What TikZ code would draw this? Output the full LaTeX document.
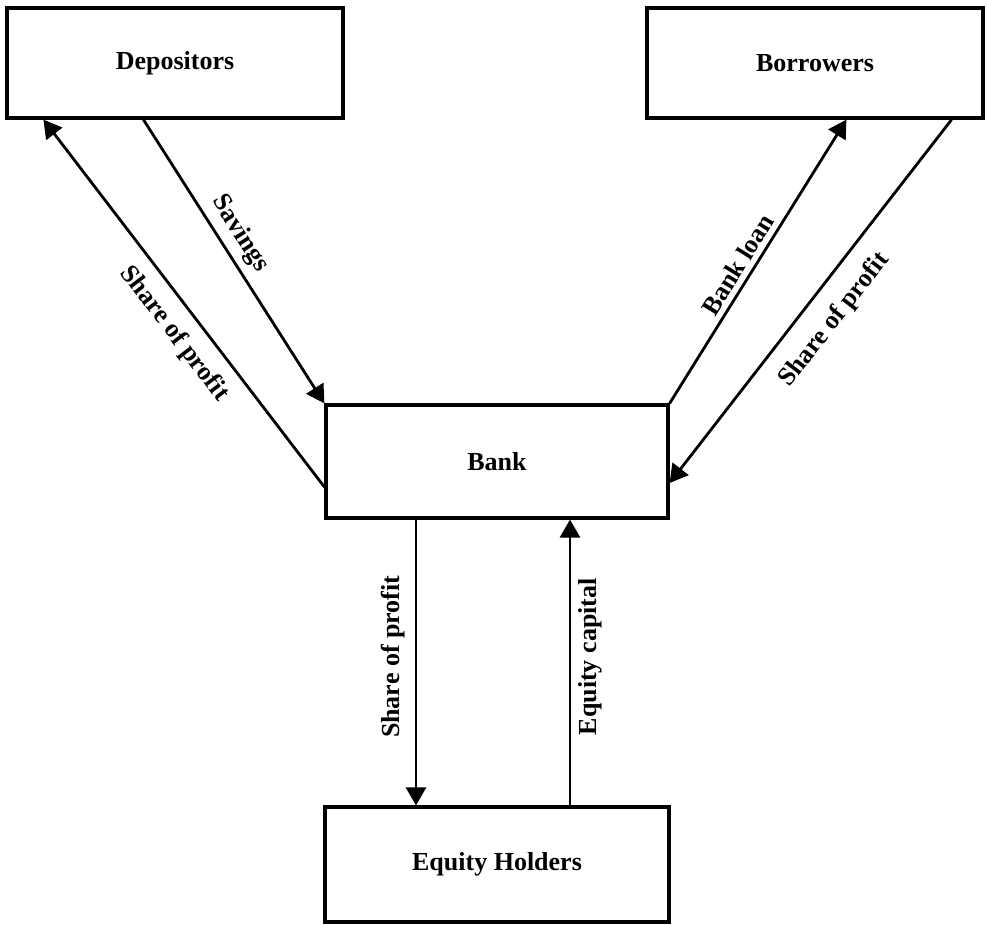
\documentclass[tikz,border=0pt]{standalone}
\usepackage{fontspec}
\setmainfont{Liberation Serif}
\usetikzlibrary{arrows.meta,calc}
\begin{document}
\begin{tikzpicture}[x=1pt,y=-1pt,
  box/.style={draw, line width=3.2pt, inner sep=0pt, font=\fontsize{26}{31}\selectfont\bfseries},
  conn/.style={line width=2.8pt, -{Triangle[length=18pt,width=20pt]}},
  connr/.style={line width=2.8pt, {Triangle[length=18pt,width=20pt]}-},
  lbl/.style={inner sep=0pt, font=\fontsize{26}{31}\selectfont\bfseries}]
\useasboundingbox (0,0) rectangle (987,924);
\node[box, minimum width=336pt, minimum height=110pt] (dep) at (175,63) {Depositors};
\node[box, minimum width=336pt, minimum height=110pt] (bor) at (815,63) {Borrowers};
\node[box, minimum width=342pt, minimum height=113pt] (bank) at (497,461.5) {Bank};
\node[box, minimum width=344pt, minimum height=115pt] (eq) at (497,864.5) {Equity Holders};

\draw[conn] ([yshift=-25.5pt]bank.west) -- ([xshift=38pt]dep.south west)
  node[lbl, pos=0.46, sloped, below=13pt] {Share of profit};
\draw[conn] ([xshift=138pt]dep.south west) -- (bank.north west)
  node[lbl, pos=0.44, sloped, above=7pt] {Savings};
\draw[conn] (bank.north east) -- ([xshift=201pt]bor.south west)
  node[lbl, pos=0.46, sloped, above=5pt] {Bank loan};
\draw[conn] ([xshift=-33pt]bor.south east) -- ([yshift=-21.5pt]bank.east)
  node[lbl, pos=0.50, sloped, below=17pt] {Share of profit};
\draw[connr] ([xshift=-81pt]eq.north) -- ([xshift=-81pt]bank.south)
  node[lbl, pos=0.52, sloped, above=10pt] {Share of profit};
\draw[conn] ([xshift=73pt]eq.north) -- ([xshift=73pt]bank.south)
  node[lbl, pos=0.52, sloped, below=7pt] {Equity capital};
\end{tikzpicture}
\end{document}
